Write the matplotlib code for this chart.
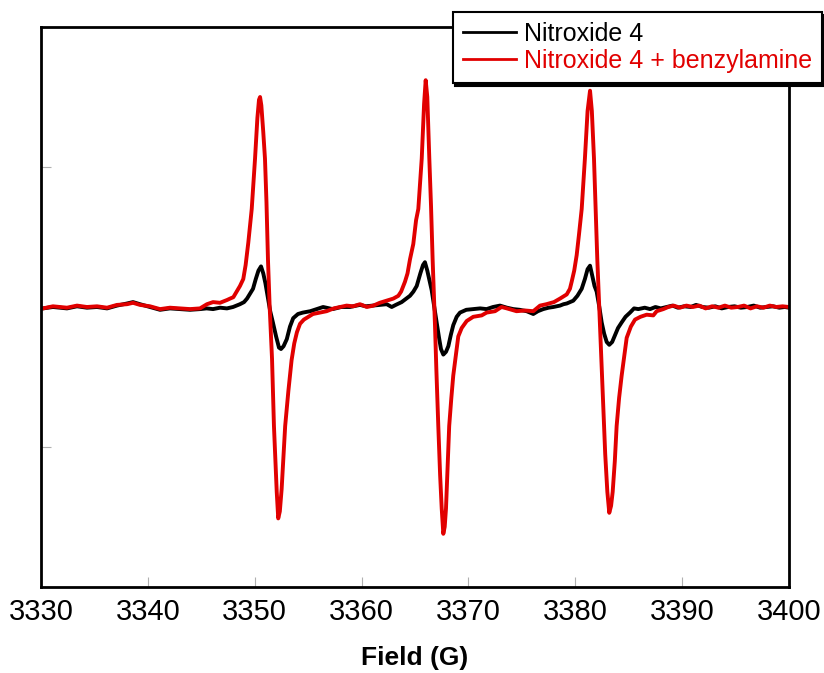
import matplotlib
matplotlib.use("Agg")
import matplotlib.pyplot as plt

# EPR spectra (field in G, signal in arbitrary units)
blackField = [
    3330.0, 3330.19, 3331.12, 3332.43, 3333.37, 3334.30, 3335.24, 3336.18, 3337.11, 3338.05,
    3338.61, 3339.26, 3340.20, 3341.14, 3342.07, 3343.01, 3343.95, 3344.88, 3345.50, 3346.10,
    3346.75, 3347.40, 3347.97, 3348.62, 3349.00, 3349.28, 3349.60, 3349.84, 3350.10, 3350.35,
    3350.59, 3350.80, 3351.00, 3351.20, 3351.45, 3351.70, 3352.00, 3352.27, 3352.46, 3352.70,
    3353.00, 3353.30, 3353.60, 3354.05, 3354.50, 3355.20, 3355.80, 3356.40, 3357.30, 3358.10,
    3358.90, 3359.85, 3360.40, 3361.07, 3361.70, 3362.35, 3362.82, 3363.20, 3363.75, 3364.10,
    3364.53, 3364.85, 3365.16, 3365.50, 3365.75, 3365.93, 3366.15, 3366.35, 3366.56, 3366.80,
    3367.03, 3367.25, 3367.43, 3367.65, 3367.90, 3368.12, 3368.35, 3368.58, 3368.90, 3369.21,
    3369.80, 3370.45, 3371.10, 3371.70, 3372.30, 3372.95, 3373.60, 3374.20, 3374.80, 3375.45,
    3376.07, 3376.50, 3377.00, 3377.50, 3377.94, 3378.57, 3378.90, 3379.20, 3379.50, 3379.81,
    3380.20, 3380.60, 3380.90, 3381.15, 3381.38, 3381.60, 3381.80, 3382.00, 3382.25, 3382.47,
    3382.70, 3382.94, 3383.18, 3383.45, 3383.72, 3384.00, 3384.34, 3384.70, 3385.12, 3385.50,
    3385.90, 3386.50, 3387.00, 3387.50, 3388.00, 3388.55, 3389.10, 3389.60, 3390.20, 3390.80,
    3391.30, 3391.90, 3392.50, 3393.10, 3393.70, 3394.30, 3394.90, 3395.50, 3396.10, 3396.70,
    3397.30, 3397.90, 3398.50, 3399.10, 3399.60, 3400.0,
]
blackSignal = [
    -0.010, -0.010, 0.000, -0.010, 0.005, -0.005, 0.000, -0.010, 0.010, 0.025,
    0.035, 0.020, 0.000, -0.020, -0.010, -0.015, -0.020, -0.015, -0.010, -0.015,
    -0.005, -0.010, 0.000, 0.020, 0.035, 0.060, 0.100, 0.130, 0.200, 0.260,
    0.290, 0.240, 0.170, 0.080, -0.030, -0.110, -0.210, -0.290, -0.300, -0.280,
    -0.230, -0.140, -0.080, -0.050, -0.040, -0.030, -0.015, 0.000, -0.015, 0.000,
    0.000, 0.015, 0.005, 0.010, 0.015, 0.020, 0.000, 0.015, 0.035, 0.055,
    0.080, 0.110, 0.150, 0.240, 0.300, 0.320, 0.260, 0.190, 0.120, 0.000,
    -0.110, -0.220, -0.300, -0.340, -0.320, -0.280, -0.200, -0.130, -0.070, -0.040,
    -0.020, -0.015, -0.010, -0.015, 0.000, 0.010, -0.005, -0.015, -0.020, -0.030,
    -0.050, -0.030, -0.015, -0.005, 0.000, 0.010, 0.020, 0.025, 0.035, 0.045,
    0.080, 0.130, 0.200, 0.270, 0.295, 0.220, 0.150, 0.110, 0.000, -0.110,
    -0.190, -0.250, -0.270, -0.250, -0.200, -0.150, -0.110, -0.070, -0.040, -0.010,
    -0.015, -0.005, -0.015, 0.000, -0.010, 0.000, 0.010, -0.005, 0.005, 0.000,
    0.015, 0.000, -0.005, 0.005, -0.010, 0.000, 0.005, -0.005, 0.000, 0.010,
    -0.005, 0.000, 0.005, -0.005, 0.000, -0.005,
]

redField = [
    3330.0, 3330.19, 3331.12, 3332.43, 3333.37, 3334.30, 3335.24, 3336.18, 3337.11, 3338.05,
    3338.61, 3339.26, 3340.20, 3341.14, 3342.07, 3343.01, 3343.95, 3344.88, 3345.53, 3346.10,
    3346.75, 3347.41, 3347.69, 3348.00, 3348.31, 3348.62, 3348.93, 3349.15, 3349.40, 3349.72,
    3350.03, 3350.25, 3350.40, 3350.50, 3350.62, 3350.80, 3350.96, 3351.10, 3351.24, 3351.40,
    3351.62, 3351.80, 3352.06, 3352.20, 3352.35, 3352.52, 3352.70, 3352.85, 3353.15, 3353.45,
    3353.70, 3353.95, 3354.24, 3354.60, 3355.45, 3356.10, 3356.73, 3357.40, 3358.00, 3358.60,
    3359.20, 3359.85, 3360.50, 3361.10, 3361.70, 3362.35, 3362.97, 3363.44, 3363.70, 3364.06,
    3364.30, 3364.53, 3364.84, 3365.10, 3365.31, 3365.63, 3365.85, 3366.00, 3366.15, 3366.34,
    3366.50, 3366.65, 3366.87, 3367.00, 3367.18, 3367.35, 3367.50, 3367.65, 3367.78, 3367.90,
    3368.05, 3368.20, 3368.40, 3368.58, 3368.85, 3369.05, 3369.37, 3369.84, 3370.45, 3371.24,
    3371.70, 3372.49, 3373.10, 3373.60, 3374.50, 3375.30, 3376.07, 3376.70, 3377.30, 3378.00,
    3378.57, 3379.20, 3379.50, 3379.66, 3379.90, 3380.13, 3380.35, 3380.60, 3380.90, 3381.15,
    3381.38, 3381.55, 3381.75, 3381.90, 3382.06, 3382.31, 3382.45, 3382.62, 3382.80, 3383.00,
    3383.18, 3383.35, 3383.50, 3383.70, 3383.87, 3384.10, 3384.34, 3384.50, 3384.81, 3385.20,
    3385.59, 3386.10, 3386.68, 3387.30, 3387.62, 3388.24, 3388.70, 3389.20, 3389.80, 3390.40,
    3391.00, 3391.60, 3392.20, 3392.80, 3393.40, 3394.00, 3394.60, 3395.20, 3395.80, 3396.40,
    3397.00, 3397.60, 3398.20, 3398.80, 3399.40, 3400.0,
]
redSignal = [
    -0.010, -0.010, 0.005, -0.005, 0.010, 0.000, 0.005, -0.005, 0.015, 0.020,
    0.030, 0.015, 0.005, -0.015, -0.005, -0.010, -0.015, -0.010, 0.020, 0.035,
    0.030, 0.050, 0.060, 0.070, 0.110, 0.150, 0.200, 0.300, 0.460, 0.700,
    1.060, 1.350, 1.480, 1.500, 1.440, 1.250, 1.060, 0.750, 0.340, 0.000,
    -0.370, -0.850, -1.320, -1.510, -1.460, -1.300, -1.050, -0.850, -0.600, -0.380,
    -0.260, -0.180, -0.120, -0.090, -0.050, -0.040, -0.030, -0.010, 0.000, 0.010,
    0.005, 0.020, 0.000, 0.010, 0.030, 0.045, 0.060, 0.080, 0.110, 0.180,
    0.240, 0.340, 0.450, 0.620, 0.700, 1.060, 1.450, 1.620, 1.500, 1.060,
    0.720, 0.340, -0.130, -0.450, -0.850, -1.200, -1.440, -1.620, -1.570, -1.440,
    -1.150, -0.850, -0.650, -0.490, -0.330, -0.210, -0.150, -0.100, -0.070, -0.060,
    -0.040, -0.030, 0.000, -0.010, -0.030, -0.025, -0.030, 0.010, 0.020, 0.035,
    0.060, 0.090, 0.130, 0.180, 0.260, 0.370, 0.520, 0.700, 1.060, 1.400,
    1.545, 1.400, 1.060, 0.720, 0.340, -0.130, -0.400, -0.730, -1.050, -1.320,
    -1.470, -1.420, -1.320, -1.100, -0.850, -0.650, -0.490, -0.400, -0.220, -0.140,
    -0.090, -0.070, -0.055, -0.060, -0.030, -0.015, 0.000, 0.010, -0.005, 0.010,
    0.000, 0.010, -0.010, 0.005, -0.005, 0.010, -0.005, 0.000, 0.010, -0.010,
    0.005, -0.005, 0.010, 0.000, 0.005, 0.000,
]

xTicks = [3330, 3340, 3350, 3360, 3370, 3380, 3390, 3400]
xLabel = "Field (G)"
blackName = "Nitroxide 4"
redName = "Nitroxide 4 + benzylamine"
redColor = "#e10000"


def main():
    fig = plt.figure(figsize=(8.24, 6.73), dpi=100)
    ax = fig.add_axes([41 / 824, 1 - 587 / 673, 748 / 824, 560 / 673])

    ax.plot(blackField, blackSignal, color="black", lw=2.8, label=blackName,
            solid_joinstyle="round")
    ax.plot(redField, redSignal, color=redColor, lw=2.8, label=redName,
            solid_joinstyle="round")

    ax.set_xlim(3330, 3400)
    ax.set_ylim(-2, 2)
    ax.set_xticks(xTicks)
    ax.set_yticks([-1, 0, 1])
    ax.set_yticklabels([])
    ax.tick_params(axis="both", direction="in", length=7, width=0.8,
                   color="#b0b0b0", pad=8)
    for lbl in ax.get_xticklabels():
        lbl.set_fontfamily("Liberation Sans")
        lbl.set_fontsize(21)
    for sp in ax.spines.values():
        sp.set_linewidth(2)

    ax.set_xlabel(xLabel, fontsize=19, fontweight="bold",
                  family="Liberation Sans", labelpad=14)

    leg = ax.legend(loc="upper right", bbox_to_anchor=(822 / 824, 1 - 12 / 673),
                    bbox_transform=fig.transFigure, borderaxespad=0,
                    fancybox=False, edgecolor="black", framealpha=1,
                    prop={"family": "Liberation Sans", "size": 18},
                    handlelength=2.15, handletextpad=0.3, labelspacing=0.12,
                    borderpad=0.4,
                    shadow={"ox": 2, "oy": -2, "facecolor": "black",
                            "edgecolor": "black", "alpha": 1})
    leg.get_frame().set_linewidth(1.5)
    for ln in leg.get_lines():
        ln.set_linewidth(2)
    for txt, ln in zip(leg.get_texts(), leg.get_lines()):
        txt.set_color(ln.get_color())

    fig.savefig("out.png", dpi=100)


main()
